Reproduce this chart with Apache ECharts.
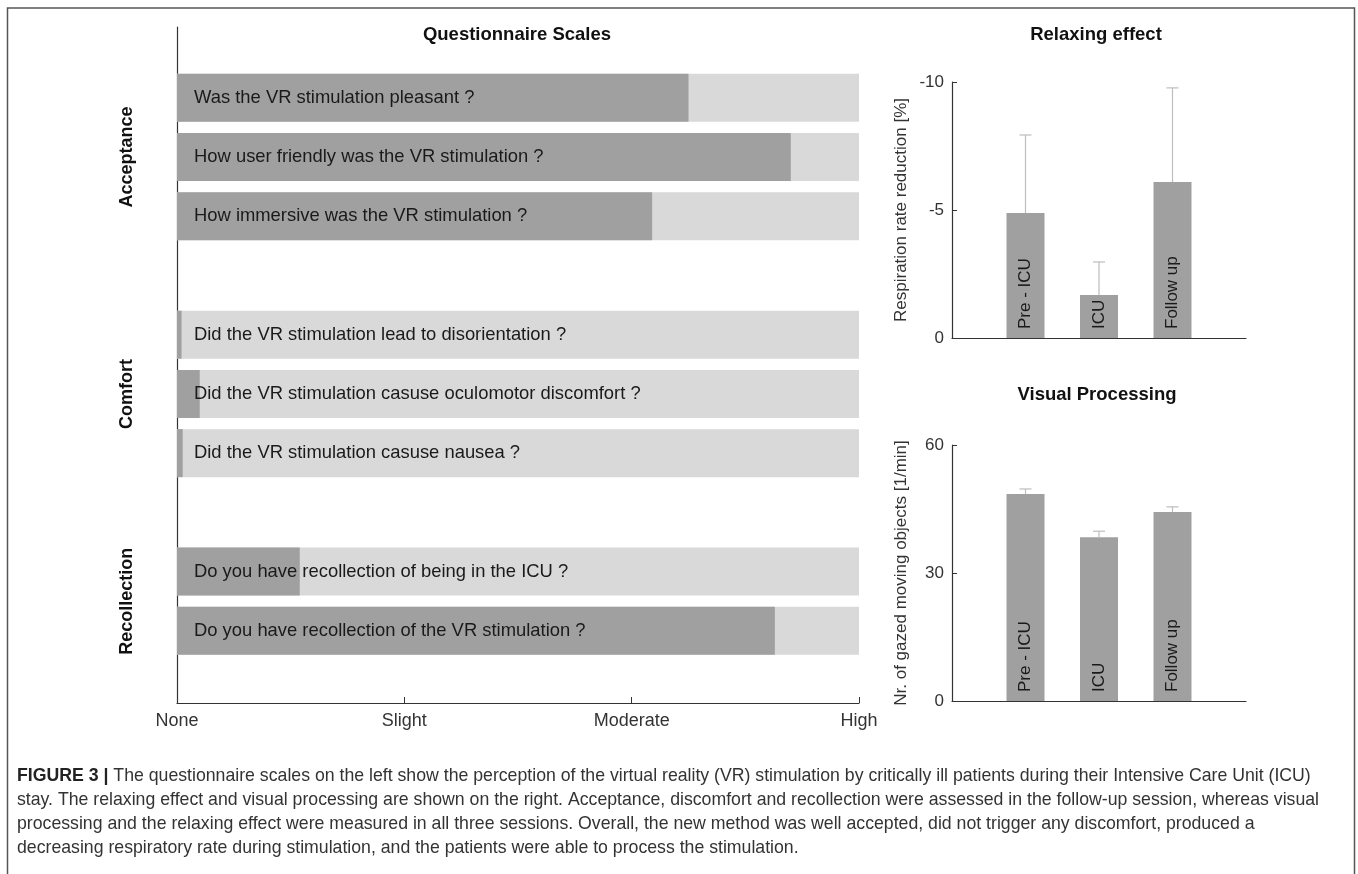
<!DOCTYPE html>
<html>
<head>
<meta charset="utf-8">
<title>Figure 3</title>
<script src="https://cdn.jsdelivr.net/npm/echarts@6/dist/echarts.min.js"></script>
<style>
  html, body { margin: 0; padding: 0; background: #fff; }
  #main { width: 1358px; height: 874px; }
</style>
</head>
<body>
<div id="main"></div>
<script>
(function(){
  'use strict';

  // questionnaire (0 = None ... 3 = High)
  var questions = [
    'Was the VR stimulation pleasant ?',
    'How user friendly was the VR stimulation ?',
    'How immersive was the VR stimulation ?',
    'Did the VR stimulation lead to disorientation ?',
    'Did the VR stimulation casuse oculomotor discomfort ?',
    'Did the VR stimulation casuse nausea ?',
    'Do you have recollection of being in the ICU ?',
    'Do you have recollection of the VR stimulation ?'
  ];
  var scores = [2.25, 2.70, 2.09, 0.02, 0.10, 0.025, 0.54, 2.63];
  var groupNames = ['Acceptance', 'Comfort', 'Recollection'];
  var groupSizes = [3, 3, 2];
  var scaleLabels = ['None', 'Slight', 'Moderate', 'High'];

  // right panels
  var sessions = ['Pre - ICU', 'ICU', 'Follow up'];
  var relaxMean = [-4.88, -1.68, -6.09];
  var relaxErr = [-7.93, -2.97, -9.77];
  var visualMean = [48.5, 38.4, 44.3];
  var visualErr = [49.7, 39.8, 45.5];

  var FONT = 'Liberation Sans';
  var DARK = '#a0a0a0';
  var LIGHT = '#d9d9d9';
  var AXIS = '#333333';

  // rows with an empty slot between groups
  var slotIds = [], slotText = [], slotScore = [], slotFull = [], groupSlots = [];
  var q = 0;
  groupSizes.forEach(function(n, g){
    if (g > 0) {
      slotIds.push('gap' + g); slotText.push(''); slotScore.push('-'); slotFull.push('-');
    }
    var first = slotIds.length;
    for (var i = 0; i < n; i++) {
      slotIds.push('q' + q); slotText.push(questions[q]);
      slotScore.push(scores[q]); slotFull.push(3);
      q++;
    }
    groupSlots.push([first, slotIds.length - 1]);
  });

  var sessionCats = ['start'].concat(sessions, ['end']);
  function pad(arr){ return ['-'].concat(arr, ['-']); }
  function errData(mean, err){
    return sessions.map(function(s, i){ return [i + 1, mean[i], err[i]]; });
  }

  function renderErr(params, api){
    var x = api.value(0);
    var p0 = api.coord([x, api.value(1)]);
    var p1 = api.coord([x, api.value(2)]);
    var w = 6;
    var st = { stroke: '#bdbdbd', lineWidth: 1.2 };
    return {
      type: 'group',
      children: [
        { type: 'line', shape: { x1: p0[0], y1: p0[1], x2: p1[0], y2: p1[1] }, style: st },
        { type: 'line', shape: { x1: p1[0] - w, y1: p1[1], x2: p1[0] + w, y2: p1[1] }, style: st }
      ]
    };
  }

  function sessionAxis(grid){
    return {
      gridIndex: grid, type: 'category', data: sessionCats, boundaryGap: false,
      axisLine: { lineStyle: { color: AXIS, width: 1.2 } },
      axisTick: { show: false }, axisLabel: { show: false }, splitLine: { show: false }
    };
  }
  function valueAxis(grid, min, max, step, inverse, name){
    return {
      gridIndex: grid, type: 'value', min: min, max: max, interval: step, inverse: inverse,
      name: name, nameLocation: 'middle', nameGap: 42,
      nameTextStyle: { fontSize: 17, color: AXIS, fontFamily: FONT },
      axisLine: { show: true, lineStyle: { color: AXIS, width: 1.2 } },
      axisTick: { show: true, inside: true, length: 5, lineStyle: { color: AXIS } },
      axisLabel: { fontSize: 17, color: AXIS, margin: 8, fontFamily: FONT },
      splitLine: { show: false }
    };
  }
  function sessionBars(grid, data){
    return {
      type: 'bar', xAxisIndex: grid, yAxisIndex: grid, data: pad(data), barWidth: 38,
      itemStyle: { color: DARK },
      label: {
        show: true, position: 'insideBottom', rotate: 90, align: 'left', verticalAlign: 'middle',
        distance: 9, formatter: '{b}', fontSize: 17, color: '#1a1a1a', fontFamily: FONT
      }
    };
  }

  var myChart = echarts.init(document.getElementById('main'), null, { renderer: 'canvas' });

  var titleStyle = { fontSize: 18.5, fontWeight: 'bold', color: '#111', fontFamily: FONT };

  var option = {
    animation: false,
    textStyle: { fontFamily: FONT },
    title: [
      { text: 'Questionnaire Scales', left: 512, top: 20, textAlign: 'center', textStyle: titleStyle },
      { text: 'Relaxing effect', left: 1091, top: 20, textAlign: 'center', textStyle: titleStyle },
      { text: 'Visual Processing', left: 1092, top: 380, textAlign: 'center', textStyle: titleStyle }
    ],
    grid: [
      { left: 177, top: 27, width: 682, height: 676 },
      { left: 177, top: 68.2, width: 682, height: 592.2 },
      { left: 952, top: 82, width: 294, height: 256 },
      { left: 952, top: 445, width: 294, height: 256 }
    ],
    xAxis: [
      {
        gridIndex: 0, type: 'value', min: 0, max: 3, interval: 1,
        axisLine: { show: true, lineStyle: { color: AXIS, width: 1.2 } },
        axisTick: { show: true, inside: true, length: 6, lineStyle: { color: AXIS } },
        axisLabel: { fontSize: 18, color: AXIS, margin: 9, fontFamily: FONT,
          formatter: function(v){ return scaleLabels[v]; } },
        splitLine: { show: false }
      },
      { gridIndex: 1, type: 'value', min: 0, max: 3, show: false },
      sessionAxis(2),
      sessionAxis(3)
    ],
    yAxis: [
      {
        gridIndex: 0, type: 'value', min: 0, max: 1,
        axisLine: { show: true, lineStyle: { color: AXIS, width: 1.2 } },
        axisTick: { show: false }, axisLabel: { show: false }, splitLine: { show: false }
      },
      { gridIndex: 1, type: 'category', data: slotIds, inverse: true, show: false },
      valueAxis(2, -10, 0, 5, true, 'Respiration rate reduction [%]'),
      valueAxis(3, 0, 60, 30, false, 'Nr. of gazed moving objects [1/min]')
    ],
    series: [
      {
        type: 'bar', xAxisIndex: 1, yAxisIndex: 1, data: slotFull, barWidth: 48,
        barGap: '-100%', itemStyle: { color: LIGHT }, silent: true
      },
      {
        type: 'bar', xAxisIndex: 1, yAxisIndex: 1, data: slotScore, barWidth: 48,
        barGap: '-100%', itemStyle: { color: DARK },
        label: {
          show: true, position: 'insideLeft', distance: 17,
          fontSize: 18.4, color: '#1a1a1a', fontFamily: FONT,
          formatter: function(p){ return slotText[p.dataIndex]; }
        }
      },
      sessionBars(2, relaxMean),
      {
        type: 'custom', xAxisIndex: 2, yAxisIndex: 2, data: errData(relaxMean, relaxErr),
        encode: { x: 0, y: [1, 2] }, renderItem: renderErr, z: 3
      },
      sessionBars(3, visualMean),
      {
        type: 'custom', xAxisIndex: 3, yAxisIndex: 3, data: errData(visualMean, visualErr),
        encode: { x: 0, y: [1, 2] }, renderItem: renderErr, z: 3
      }
    ]
  };

  myChart.setOption(option);

  // group names next to their rows, caption and frame
  var graphics = [];
  groupSlots.forEach(function(s, g){
    var y0 = myChart.convertToPixel({ yAxisIndex: 1 }, slotIds[s[0]]);
    var y1 = myChart.convertToPixel({ yAxisIndex: 1 }, slotIds[s[1]]);
    graphics.push({
      type: 'text', x: 127, y: (y0 + y1) / 2, rotation: Math.PI / 2,
      style: { text: groupNames[g], fill: '#111', font: 'bold 18px ' + FONT,
        textAlign: 'center', textVerticalAlign: 'middle' }
    });
  });

  var caption =
    '{b|FIGURE 3 |} The questionnaire scales on the left show the perception of the virtual reality (VR) stimulation by critically ill patients during their Intensive Care Unit (ICU)\n' +
    'stay. The relaxing effect and visual processing are shown on the right. Acceptance, discomfort and recollection were assessed in the follow-up session, whereas visual\n' +
    'processing and the relaxing effect were measured in all three sessions. Overall, the new method was well accepted, did not trigger any discomfort, produced a\n' +
    'decreasing respiratory rate during stimulation, and the patients were able to process the stimulation.';
  graphics.push({
    type: 'text', x: 17, y: 764,
    style: {
      text: caption, fill: '#333', fontSize: 17.7, fontFamily: FONT, lineHeight: 24,
      rich: { b: { fontWeight: 'bold', fill: '#222', fontSize: 17.7, fontFamily: FONT, lineHeight: 24 } }
    }
  });
  graphics.push({
    type: 'rect', shape: { x: 7.5, y: 8, width: 1347, height: 900 },
    style: { fill: 'none', stroke: '#555', lineWidth: 1.5 }, silent: true
  });

  myChart.setOption({ graphic: graphics });

}());
</script>
</body>
</html>
